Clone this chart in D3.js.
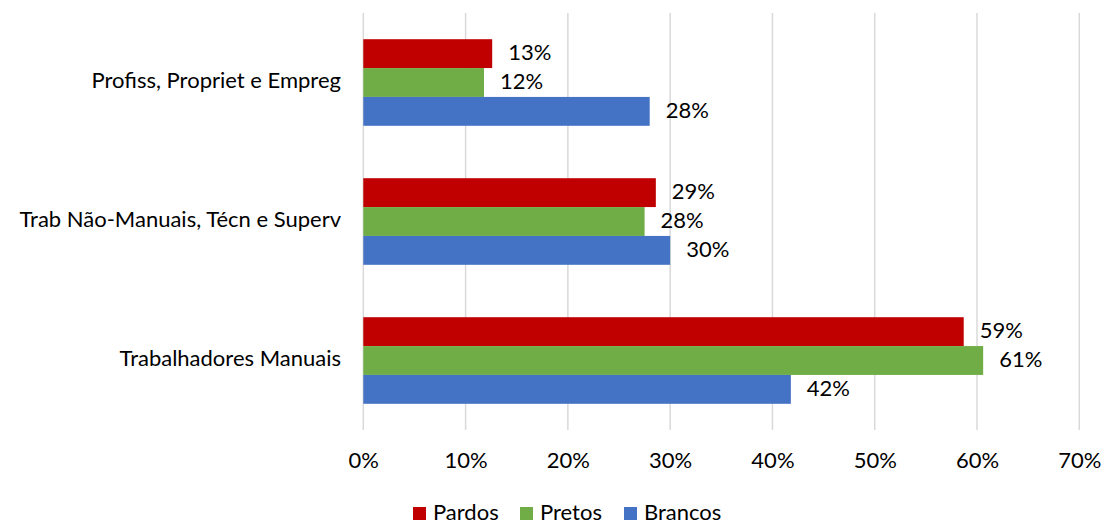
<!DOCTYPE html>
<html>
<head>
<meta charset="utf-8">
<script src="https://cdn.jsdelivr.net/npm/d3@7"></script>
<style>
  html, body { margin: 0; padding: 0; background: #fff; }
  svg { display: block; font-family: Lato, "Open Sans", sans-serif; }
</style>
</head>
<body>
<svg id="chart" width="1105" height="524"></svg>
<script>
// Occupational groups (top to bottom)
const categories = [
  "Profiss, Propriet e Empreg",
  "Trab Não-Manuais, Técn e Superv",
  "Trabalhadores Manuais"
];
// Series, in drawing order within each group (top to bottom)
const seriesNames = ["Pardos", "Pretos", "Brancos"];
const seriesColors = ["#C00000", "#70AD47", "#4472C4"];
// Percent shares per category, one array per series
const pardos  = [12.6, 28.6, 58.7];
const pretos  = [11.8, 27.5, 60.6];
const brancos = [28.0, 30.0, 41.8];
const seriesValues = [pardos, pretos, brancos];
// Axis ticks (percent)
const xTicks = [0, 10, 20, 30, 40, 50, 60, 70];

const FONT = "Lato, 'Open Sans', sans-serif";
const FS = 22;

const svg = d3.select("#chart");

const x = d3.scaleLinear().domain([0, 70]).range([363.3, 1079.3]);
const y = d3.scaleBand().domain(categories).range([13, 430])
  .paddingInner(0.377).paddingOuter(0.1885);
const ySub = d3.scaleBand().domain(seriesNames).range([0, y.bandwidth()]);

// Vertical gridlines
svg.append("g")
  .selectAll("line")
  .data(xTicks)
  .join("line")
  .attr("x1", d => x(d)).attr("x2", d => x(d))
  .attr("y1", 13).attr("y2", 430)
  .attr("stroke", "#d9d9d9")
  .attr("stroke-width", 1.5);

// X axis tick labels
const xAxis = d3.axisBottom(x).tickValues(xTicks).tickFormat(d => d + "%").tickSize(0).tickPadding(0);
const gx = svg.append("g").attr("transform", "translate(0,455)").call(xAxis);
gx.select(".domain").remove();
gx.selectAll("text")
  .attr("font-family", FONT)
  .attr("font-size", FS)
  .attr("fill", "#000")
  .attr("dy", "0")
  .attr("dominant-baseline", "middle")
  .attr("y", 7);

// Category labels
const yAxis = d3.axisLeft(y).tickSize(0).tickPadding(0);
const gy = svg.append("g").attr("transform", "translate(341,0)").call(yAxis);
gy.select(".domain").remove();
gy.selectAll("text")
  .attr("font-family", FONT)
  .attr("font-size", FS)
  .attr("fill", "#000")
  .attr("dy", "0")
  .attr("dominant-baseline", "middle");

// Bars and value labels
const groups = svg.append("g")
  .selectAll("g")
  .data(categories)
  .join("g")
  .attr("transform", d => `translate(0,${y(d)})`);

const rows = groups.selectAll("g")
  .data((c, ci) => seriesNames.map((s, si) => ({ s, color: seriesColors[si], v: seriesValues[si][ci] })))
  .join("g");

rows.append("rect")
  .attr("x", x(0))
  .attr("y", d => ySub(d.s))
  .attr("width", d => x(d.v) - x(0))
  .attr("height", ySub.bandwidth())
  .attr("fill", d => d.color);

rows.append("text")
  .attr("x", d => x(d.v) + 16)
  .attr("y", d => ySub(d.s) + ySub.bandwidth() / 2 + 1)
  .attr("dominant-baseline", "middle")
  .attr("font-family", FONT)
  .attr("font-size", FS)
  .attr("fill", "#000")
  .text(d => Math.round(d.v) + "%");

// Legend
const legend = svg.append("g").attr("transform", "translate(413,514)");
const legendX = [0, 107, 211];
seriesNames.forEach((s, i) => {
  const g = legend.append("g").attr("transform", `translate(${legendX[i]},0)`);
  g.append("rect").attr("x", 0).attr("y", -7).attr("width", 13).attr("height", 13).attr("fill", seriesColors[i]);
  g.append("text").attr("x", 20).attr("y", 0).attr("dominant-baseline", "middle")
    .attr("font-family", FONT).attr("font-size", FS).attr("fill", "#000").text(s);
});
</script>
</body>
</html>
